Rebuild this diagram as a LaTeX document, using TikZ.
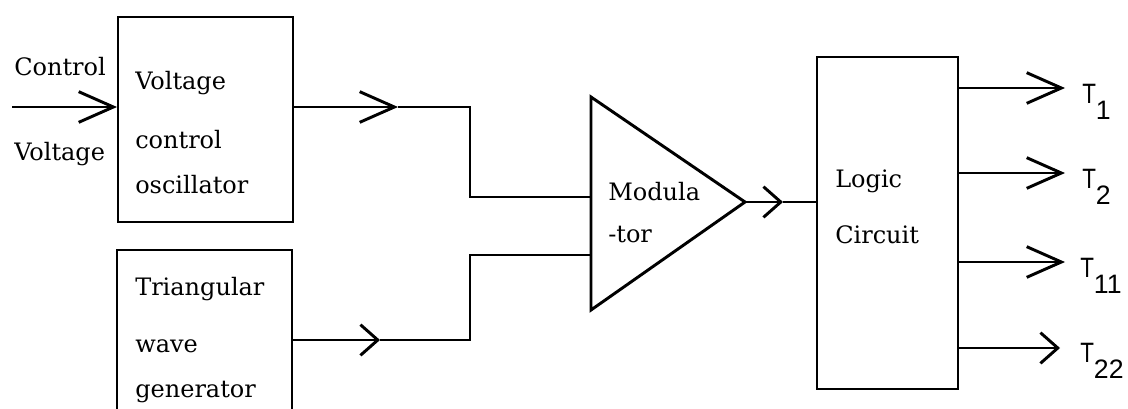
\documentclass[tikz,border=0pt]{standalone}
\usepackage{fontspec}
\setmainfont{DejaVu Serif}
\newfontfamily\sansT{Liberation Sans}
\usetikzlibrary{arrows.meta}
\newcommand\Tsub[1]{{\sansT\fontsize{21}{21}\selectfont\scalebox{0.8}[1]{T}\fontsize{20}{20}\selectfont\raisebox{-12pt}{#1}}}
\tikzset{
  wire/.style={line width=1.5pt},
  arrL/.style={wire,-{Straight Barb[length=26pt,width=23pt,line width=2.2pt]}},
  arrS/.style={wire,-{Straight Barb[length=13pt,width=23pt,line width=2.2pt]}},
  box/.style={draw,line width=1.5pt,inner sep=0pt},
  txt/.style={anchor=base west,inner sep=0pt,font=\fontsize{18}{20}\selectfont},
  tlab/.style={anchor=base west,inner sep=0pt}
}
\begin{document}
\begin{tikzpicture}[x=0.75pt,y=-0.75pt]
\useasboundingbox (0,0) rectangle (1128,408);
% boxes
\node[box,minimum width=131.25pt,minimum height=153.75pt] (vco) at (205.5,119.5) {};
\node[box,minimum width=131.25pt,minimum height=123.75pt] (tri) at (204.5,332.5) {};
\node[box,minimum width=105.75pt,minimum height=249pt] (lc) at (887.5,223) {};
% modulator triangle
\coordinate (mt) at (591,97);
\coordinate (mb) at (591,310);
\coordinate (mtip) at (745,202);
\draw[line width=2.2pt,line join=miter] (mt) -- (mtip) -- (mb) -- cycle;
% texts
\node[txt] (tc1) at (14,75) {Control};
\node[txt] (tc2) at (14,160) {Voltage};
\node[txt] (v1) at (135,89) {Voltage};
\node[txt] (v2) at (135,148) {control};
\node[txt] (v3) at (135,193) {oscillator};
\node[txt] (t1) at (135,295) {Triangular};
\node[txt] (t2) at (135,352) {wave};
\node[txt] (t3) at (135,397) {generator};
\node[txt] (m1) at (608,200) {Modula};
\node[txt] (m2) at (608,242) {-tor};
\node[txt] (l1) at (835,187) {Logic};
\node[txt] (l2) at (835,243) {Circuit};
% input
\coordinate (vin) at (12,107);
\draw[arrL] (vin) -- (vco.west |- vin);
% VCO output
\coordinate (a1) at (398,107);
\coordinate (j1) at (470,107);
\coordinate (mi1) at (591,197);
\draw[arrL] (vco.east |- a1) -- (a1);
\draw[wire] (a1) -- (j1) |- (mi1);
% triangular output
\coordinate (a2) at (380,340);
\coordinate (j2) at (470,340);
\coordinate (mi2) at (591,255);
\draw[arrS] (tri.east |- a2) -- (a2);
\draw[wire] (a2) -- (j2) |- (mi2);
% modulator output
\coordinate (a3) at (783,202);
\draw[arrS] (mtip) -- (a3);
\draw[wire] (a3) -- (lc.west |- a3);
% logic outputs
\coordinate (o1) at (1065,88);
\coordinate (o2) at (1065,173);
\coordinate (o3) at (1065,262);
\coordinate (o4) at (1060,348);
\draw[arrL] (lc.east |- o1) -- (o1);
\draw[arrL] (lc.east |- o2) -- (o2);
\draw[arrL] (lc.east |- o3) -- (o3);
\draw[arrS] (lc.east |- o4) -- (o4);
\node[tlab] (T1) at (1082,103) {\Tsub{1}};
\node[tlab] (T2) at (1082,188) {\Tsub{2}};
\node[tlab] (T11) at (1080,277) {\Tsub{11}};
\node[tlab] (T22) at (1080,362) {\Tsub{22}};
\end{tikzpicture}
\end{document}
